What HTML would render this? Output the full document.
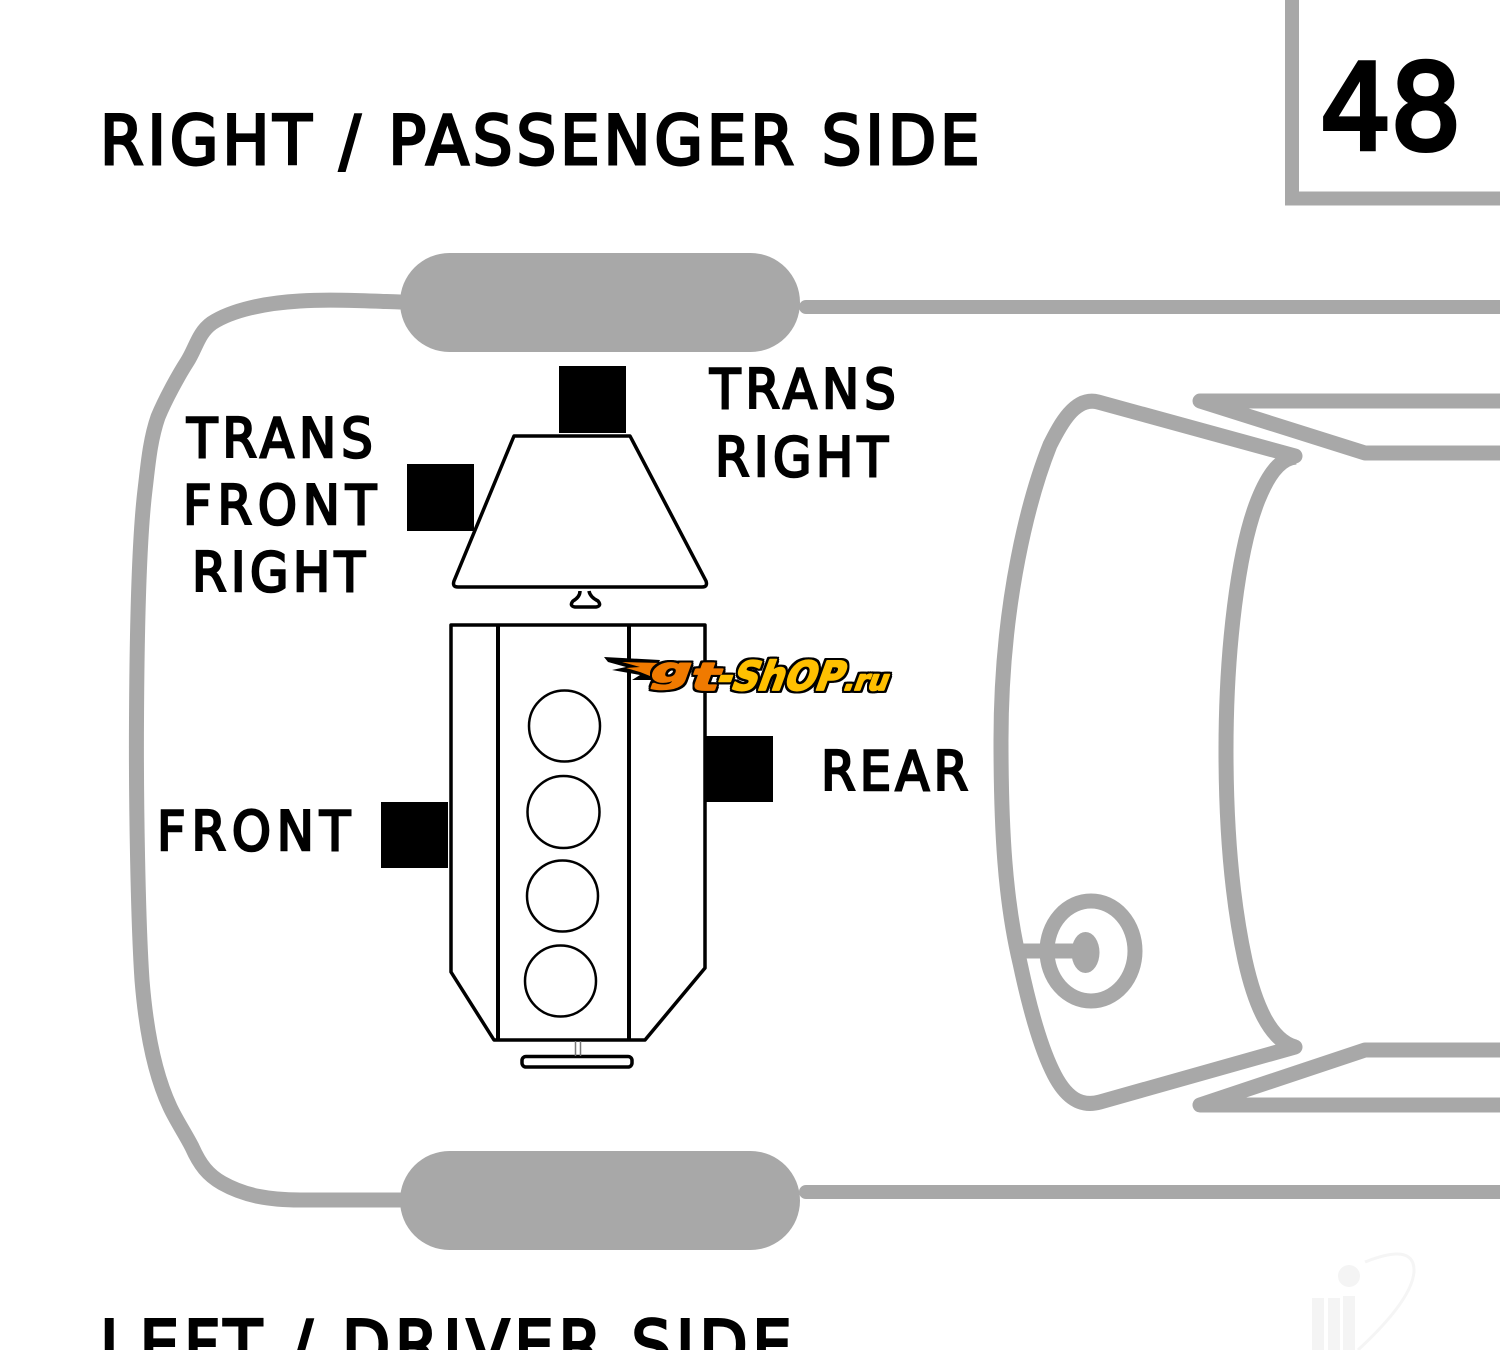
<!DOCTYPE html>
<html><head><meta charset="utf-8"><style>html,body{margin:0;padding:0;background:#fff;width:1500px;height:1350px;overflow:hidden}svg{display:block}
.t{font-family:"DejaVu Sans","Liberation Sans",sans-serif;font-weight:400;fill:#000;stroke:#000;stroke-width:2.500px}</style></head><body>
<svg width="1500" height="1350" viewBox="0 0 1500 1350" xmlns="http://www.w3.org/2000/svg">
<rect width="1500" height="1350" fill="#fff"/>
<g fill="none" stroke="#f5f5f5" stroke-width="3"><path d="M1365 1262C1395 1250 1415 1250 1414 1272C1412 1295 1385 1325 1358 1350"/></g>
<g fill="#f4f4f4"><circle cx="1349" cy="1276" r="11"/><rect x="1312" y="1298" width="12" height="52"/><rect x="1328" y="1298" width="12" height="52"/><rect x="1343" y="1296" width="12" height="54"/></g>
<g fill="none" stroke="#a8a8a8" stroke-width="15" stroke-linecap="round" stroke-linejoin="round">
<path d="M1292 0V198.500H1500" stroke-width="14" stroke-linecap="butt" stroke-linejoin="miter"/>
<path d="M400 302C370 301 330 299 300 301C265 303 232 310 212 323C198 333 196 348 187 362C178 376 165 400 158 417C150 440 148 465 145 490C139 540 137 620 136.500 720C136 800 138 920 142 980C146 1030 155 1075 170 1107C176 1120 186 1135 192 1147C200 1165 208 1175 222 1183C245 1196 270 1200 300 1200H400"/>
<path d="M806 307H1500M806 1192H1500" stroke-width="14"/>
<path d="M1500 401H1200L1365 453H1500M1500 1050H1365L1200 1105H1500"/>
<path d="M1295 456L1098 402C1075 396 1060 425 1050 445C1030 495 1001 600 1001 740C1001 830 1005 900 1020 963C1030 1010 1040 1045 1052 1070C1066 1100 1082 1107 1100 1102L1295 1047"/>
<path d="M1296 457C1280 458 1268 475 1258 500C1238 550 1226 650 1226 750C1226 830 1232 900 1245 960C1255 1005 1270 1040 1295 1047" stroke-linecap="butt"/>
<path d="M1015 951H1080" stroke-linecap="butt"/>
</g>
<ellipse cx="1091" cy="951" rx="44" ry="50" fill="none" stroke="#a8a8a8" stroke-width="15"/>
<ellipse cx="1085.500" cy="952.500" rx="14" ry="20.500" fill="#a8a8a8"/>
<rect x="400" y="253" width="400" height="99" rx="49.500" fill="#a8a8a8"/>
<rect x="400" y="1151" width="400" height="99" rx="49.500" fill="#a8a8a8"/>
<g fill="none" stroke="#000" stroke-width="3.500" stroke-linejoin="round">
<path d="M514 436H630L706 581Q708 587 702 587H458Q452 587 454 581Z"/>
<path d="M580 591Q580 597 573 601Q569 606 575 607H596Q602 606 598 601Q590 597 589 591"/>
<path d="M451 625H705V968L645 1040H494L451 972Z"/>
<path d="M498 625V1040M629 625V1040" stroke-width="4"/>
<circle cx="564.500" cy="726" r="35.500" stroke-width="2.500"/><circle cx="563.500" cy="812" r="36" stroke-width="2.500"/><circle cx="562.500" cy="896" r="35.500" stroke-width="2.500"/><circle cx="560.500" cy="981" r="35.500" stroke-width="2.500"/>
<rect x="522" y="1056.500" width="110" height="10.500" rx="4"/>
<path d="M575.500 1041V1056M580.500 1041V1056" stroke="#777" stroke-width="1.500"/>
</g>
<g fill="#000">
<rect x="559" y="366" width="67" height="67"/><rect x="407" y="464" width="67" height="67"/><rect x="705" y="736" width="68" height="66"/><rect x="381" y="802" width="67" height="66"/>
</g>
<g class="t">
<text transform="translate(100,164) scale(.92,1)" font-size="68" textLength="956" lengthAdjust="spacing" style="stroke-width:3px">RIGHT / PASSENGER SIDE</text>
<text transform="translate(100,1369) scale(.92,1)" font-size="68" textLength="752" lengthAdjust="spacing" style="stroke-width:3px">LEFT / DRIVER SIDE</text>
<text transform="translate(1320,149) scale(.95,1)" font-size="118" textLength="149" lengthAdjust="spacing" style="stroke-width:5px">48</text>
<text transform="translate(187,457) scale(.92,1)" font-size="54" textLength="202" lengthAdjust="spacing">TRANS</text>
<text transform="translate(183,524) scale(.92,1)" font-size="54" textLength="210" lengthAdjust="spacing">FRONT</text>
<text transform="translate(192,591) scale(.92,1)" font-size="54" textLength="188" lengthAdjust="spacing">RIGHT</text>
<text transform="translate(710,408) scale(.92,1)" font-size="54" textLength="202" lengthAdjust="spacing">TRANS</text>
<text transform="translate(715,476) scale(.92,1)" font-size="54" textLength="188" lengthAdjust="spacing">RIGHT</text>
<text transform="translate(821,790) scale(.92,1)" font-size="54" textLength="160" lengthAdjust="spacing">REAR</text>
<text transform="translate(157,850) scale(.92,1)" font-size="54" textLength="210" lengthAdjust="spacing">FRONT</text>
</g>
<path d="M604 657L660 660L652 680L632 680L640 675L612 670L626 667L608 662Z" fill="#000"/>
<path d="M622 662L662 663L650 676L640 672L626 668L640 667Z" fill="#f07a00"/>
<g font-family="'DejaVu Sans',sans-serif" font-weight="700" style="filter:drop-shadow(2px 0 0 #000) drop-shadow(-2px 0 0 #000) drop-shadow(0 2px 0 #000) drop-shadow(0 -2px 0 #000)" stroke-width="1.800" stroke-linejoin="round">
<text transform="translate(648,682) skewX(-20)" font-size="34" fill="#f07a00" stroke="#f07a00" textLength="40" lengthAdjust="spacingAndGlyphs">g</text>
<text transform="translate(688,690) skewX(-20)" font-size="38" fill="#f07a00" stroke="#f07a00" textLength="28" lengthAdjust="spacingAndGlyphs">t</text>
<text transform="translate(714,690) skewX(-20)" font-size="40" fill="#ffc000" stroke="#ffc000" textLength="126" lengthAdjust="spacingAndGlyphs">-ShOP</text>
<text transform="translate(842,690) skewX(-20)" font-size="28" fill="#ffc000" stroke="#ffc000" textLength="44" lengthAdjust="spacingAndGlyphs">.ru</text>
</g>
</svg>
</body></html>
